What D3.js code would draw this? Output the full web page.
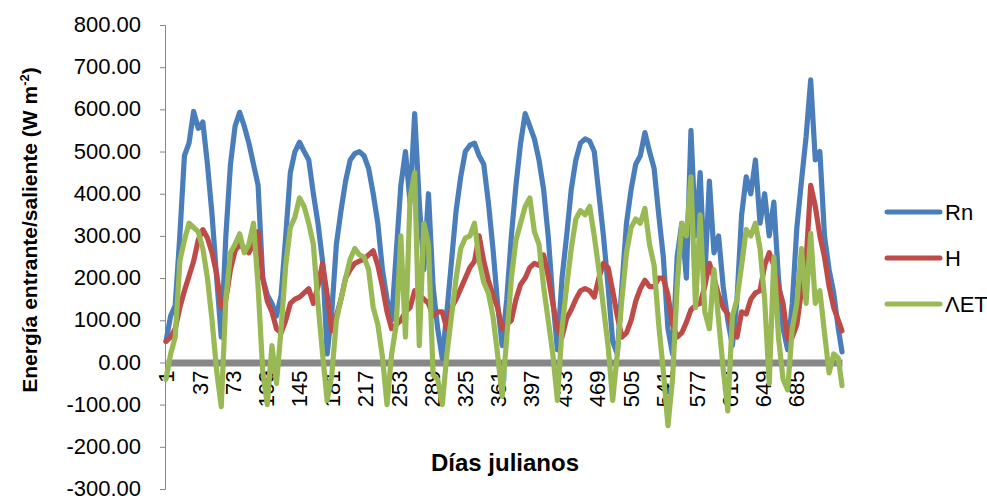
<!DOCTYPE html>
<html><head><meta charset="utf-8">
<script src="https://cdn.jsdelivr.net/npm/d3@7"></script>
<style>
body{margin:0;background:#fff;}
svg{display:block;font-family:"Liberation Sans",Arial,sans-serif;}
</style>
</head><body>
<svg id="chart" width="987" height="499"></svg>
<script>
// ---- data ----
const days = [1,6,11,16,21,26,31,36,41,46,51,56,61,66,71,76,81,86,91,96,
101,106,111,116,121,126,131,136,141,146,151,156,161,166,171,176,181,186,191,196,
201,206,211,216,221,226,231,236,241,246,251,256,261,266,271,276,281,286,291,296,
301,306,311,316,321,326,331,336,341,346,351,356,361,366,371,376,381,386,391,396,
401,406,411,416,421,426,431,436,441,446,451,456,461,466,471,476,481,486,491,496,
501,506,511,516,521,526,531,536,541,546,551,556,561,566,571,576,581,586,591,596,
601,606,611,616,621,626,631,636,641,646,651,656,661,666,671,676,681,686,691,696,
701,706,711,716,721,726,731,735];

const rnValues = [50,110,135,300,490,520,595,555,570,470,
350,200,60,300,470,560,593,560,520,470,
420,200,160,140,110,160,300,450,500,522,
500,480,400,330,240,20,120,280,360,430,
480,495,500,490,460,400,330,220,150,100,
260,420,500,380,590,380,220,400,180,80,
10,120,240,360,440,500,515,520,490,470,
380,270,140,40,150,300,420,520,590,560,
530,480,410,300,150,30,200,300,410,480,
520,530,525,500,400,300,180,50,20,180,
330,410,470,490,545,500,460,350,250,80,
20,250,330,200,550,300,450,200,430,260,
300,180,100,40,150,350,440,400,480,330,
400,300,380,200,80,30,140,320,430,535,
670,480,500,300,220,165,80,25];

const hValues = [50,60,80,130,170,205,240,290,315,295,
260,210,130,150,220,265,280,270,260,280,
310,200,145,120,80,70,100,140,150,155,
165,175,140,180,235,160,75,110,150,200,
220,235,240,245,255,265,230,180,120,80,
90,100,120,130,170,160,150,140,110,120,
120,80,130,150,175,200,225,240,300,240,
195,160,130,80,90,100,150,185,200,225,
235,230,255,205,140,80,60,105,125,150,
170,175,170,155,200,235,225,170,110,60,
70,100,145,175,195,180,180,200,200,160,
90,60,70,95,125,135,140,180,235,200,
160,130,115,80,60,120,115,150,165,170,
230,260,230,180,140,55,60,90,170,240,
420,370,300,250,180,130,100,75];

const letValues = [-40,20,60,240,290,330,320,310,270,200,
100,-20,-105,150,260,280,305,260,280,330,
180,-20,-100,40,-50,80,230,320,345,390,
370,330,280,140,20,-90,-30,100,150,200,
245,270,255,250,220,130,90,14,-100,20,
90,300,60,390,450,40,330,280,-30,-40,
-100,20,110,200,270,295,300,330,240,190,
165,110,20,-80,60,200,290,330,370,390,
310,280,180,100,20,-90,80,180,270,340,
360,350,370,300,220,130,40,-90,20,150,
260,320,340,330,365,280,230,90,-20,-150,
-40,180,330,300,440,130,350,120,80,220,
100,-15,-115,110,150,230,315,300,330,270,
150,-50,250,60,-40,-65,80,140,270,140,
306,140,170,70,-25,20,10,-55];

const seriesNames = ["Rn", "H", "ΛET"];
const seriesColors = ["#4A7EBB", "#BE4B48", "#98B954"];
const yTickValues = [-300,-200,-100,0,100,200,300,400,500,600,700,800];
const xTickLabels = [1,37,73,109,145,181,217,253,289,325,361,397,433,469,505,541,577,613,649,685];

// ---- chart ----
const svg = d3.select("#chart");
const font = '"Liberation Sans", Arial, sans-serif';

const x = d3.scaleLinear().domain([1, 735]).range([166, 842]);
const y = d3.scaleLinear().domain([-300, 800]).range([489, 25]);

// Y axis
const gy = svg.append("g").attr("transform", "translate(165,0)")
  .call(d3.axisLeft(y).tickValues(yTickValues).tickFormat(d => d.toFixed(2))
    .tickSize(5).tickSizeOuter(5).tickPadding(19));
gy.select(".domain").attr("stroke", "#868686").attr("stroke-width", 1);
gy.selectAll(".tick line").attr("stroke", "#868686");
gy.selectAll(".tick text").attr("font-size", 22).attr("font-family", font).attr("fill", "#000")
  .attr("dy", "0.3em");

// X axis (category axis crossing at 0)
const gx = svg.append("g").attr("transform", `translate(0,${y(0)})`)
  .call(d3.axisBottom(x).tickValues(xTickLabels).tickSize(0).tickSizeOuter(0));
gx.select(".domain").attr("stroke", "#878787").attr("stroke-width", 7);
gx.selectAll(".tick text")
  .attr("font-size", 22).attr("font-family", font).attr("fill", "#000")
  .attr("transform", "rotate(-90)")
  .attr("x", -8).attr("y", 0).attr("dy", "0.36em")
  .attr("text-anchor", "end");

// Series
const seriesData = [rnValues, hValues, letValues];
const line = d3.line().x(d => x(d.day)).y(d => y(d.v));
seriesData.forEach((vals, i) => {
  const pts = days.map((d, k) => ({day: d, v: vals[k]}));
  svg.append("path").datum(pts)
    .attr("fill", "none")
    .attr("stroke", seriesColors[i])
    .attr("stroke-width", 5.2)
    .attr("stroke-linejoin", "round")
    .attr("stroke-linecap", "round")
    .attr("d", line);
});

// Axis titles
svg.append("text")
  .attr("transform", "translate(37,230) rotate(-90)")
  .attr("text-anchor", "middle")
  .attr("font-family", font).attr("font-weight", "bold").attr("font-size", 21)
  .call(t => {
    t.append("tspan").text("Energía entrante/saliente (W m");
    t.append("tspan").attr("font-size", 13).attr("dy", -8).text("-2");
    t.append("tspan").attr("dy", 8).text(")");
  });

svg.append("text")
  .attr("x", 505).attr("y", 471)
  .attr("text-anchor", "middle")
  .attr("font-family", font).attr("font-weight", "bold").attr("font-size", 24)
  .text("Días julianos");

// Legend
const legendY = [212, 258, 304];
seriesNames.forEach((name, i) => {
  const g = svg.append("g");
  g.append("line")
    .attr("x1", 887).attr("x2", 940)
    .attr("y1", legendY[i]).attr("y2", legendY[i])
    .attr("stroke", seriesColors[i]).attr("stroke-width", 5)
    .attr("stroke-linecap", "round");
  g.append("text")
    .attr("x", 945).attr("y", legendY[i]).attr("dy", "0.36em")
    .attr("font-family", font).attr("font-size", 22)
    .text(name);
});
</script>
</body></html>
